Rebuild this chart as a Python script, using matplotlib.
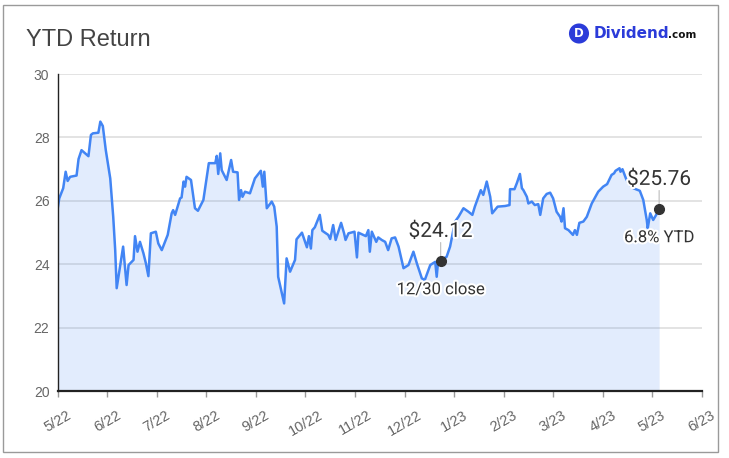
import matplotlib.pyplot as plt
import matplotlib.patheffects as pe
from matplotlib.patches import Rectangle

# ── data (x = months since 5/22) ────────────────────────────────────────────
MONTH_LABELS = ['5/22', '6/22', '7/22', '8/22', '9/22', '10/22', '11/22',
                '12/22', '1/23', '2/23', '3/23', '4/23', '5/23', '6/23']
Y_TICKS = [20, 22, 24, 26, 28, 30]

months = [
    0.00, 0.03, 0.11, 0.16, 0.20, 0.25, 0.38, 0.42, 0.48, 0.62, 0.67, 0.71,
    0.82, 0.86, 0.91, 0.97, 1.06, 1.12, 1.16, 1.19, 1.32, 1.39, 1.43, 1.53,
    1.56, 1.61, 1.66, 1.73, 1.78, 1.83, 1.88, 1.98, 2.03, 2.10, 2.22, 2.30,
    2.33, 2.37, 2.47, 2.50, 2.54, 2.57, 2.60, 2.69, 2.77, 2.83, 2.94, 3.05,
    3.18, 3.21, 3.24, 3.28, 3.31, 3.41, 3.50, 3.54, 3.63, 3.66, 3.70, 3.73,
    3.78, 3.88, 3.98, 4.10, 4.14, 4.17, 4.22, 4.32, 4.37, 4.42, 4.45, 4.57,
    4.62, 4.69, 4.79, 4.82, 4.93, 5.03, 5.07, 5.11, 5.14, 5.19, 5.29, 5.34,
    5.46, 5.50, 5.56, 5.61, 5.72, 5.78, 5.81, 5.87, 5.99, 6.04, 6.07, 6.22,
    6.27, 6.30, 6.34, 6.43, 6.47, 6.54, 6.61, 6.67, 6.74, 6.81, 6.88, 6.98,
    7.08, 7.18, 7.25, 7.35, 7.41, 7.52, 7.62, 7.65, 7.68, 7.73, 7.85, 7.92,
    8.02, 8.09, 8.19, 8.29, 8.37, 8.42, 8.54, 8.59, 8.66, 8.73, 8.77, 8.88,
    9.03, 9.12, 9.13, 9.22, 9.27, 9.33, 9.37, 9.40, 9.47, 9.50, 9.57, 9.63,
    9.70, 9.74, 9.80, 9.87, 9.94, 10.00, 10.07, 10.14, 10.17, 10.21, 10.24,
    10.31, 10.40, 10.44, 10.48, 10.53, 10.61, 10.68, 10.78, 10.91, 11.01,
    11.09, 11.18, 11.23, 11.26, 11.34, 11.36, 11.40, 11.47, 11.52, 11.62,
    11.75, 11.82, 11.89, 11.91, 11.96, 12.02, 12.08, 12.14,
]
prices = [
    25.77, 26.08, 26.40, 26.92, 26.63, 26.76, 26.80, 27.32, 27.60, 27.41, 28.08, 28.13,
    28.15, 28.50, 28.36, 27.60, 26.71, 25.50, 24.45, 23.25, 24.56, 23.35, 23.98, 24.14,
    24.89, 24.40, 24.71, 24.35, 24.03, 23.63, 24.98, 25.03, 24.66, 24.45, 24.93, 25.61,
    25.71, 25.56, 26.08, 26.11, 26.61, 26.45, 26.76, 26.66, 25.77, 25.69, 26.03, 27.19,
    27.19, 27.42, 26.85, 27.50, 26.97, 26.66, 27.29, 26.92, 26.90, 26.03, 26.34, 26.13,
    26.29, 26.24, 26.71, 26.95, 26.45, 26.92, 25.77, 25.98, 25.82, 25.19, 23.61, 22.77,
    24.19, 23.77, 24.14, 24.79, 25.00, 24.54, 24.89, 24.50, 25.08, 25.17, 25.56, 25.06,
    24.93, 24.80, 25.24, 24.77, 25.31, 24.98, 24.77, 24.98, 25.03, 24.22, 25.00, 24.89,
    25.08, 24.40, 25.03, 24.71, 24.85, 24.77, 24.71, 24.45, 24.82, 24.85, 24.56, 23.88,
    23.98, 24.40, 24.03, 23.56, 23.51, 23.98, 24.08, 23.61, 24.14, 24.12, 24.24, 24.56,
    25.35, 25.50, 25.77, 25.66, 25.56, 25.82, 26.34, 26.19, 26.61, 26.13, 25.61, 25.82,
    25.84, 25.87, 26.37, 26.37, 26.57, 26.85, 26.40, 26.34, 26.13, 25.92, 25.98, 25.87,
    25.90, 25.56, 26.08, 26.22, 26.26, 26.08, 25.66, 25.50, 25.35, 25.77, 25.14,
    25.08, 24.93, 25.08, 24.93, 25.31, 25.35, 25.50, 25.92, 26.29, 26.45,
    26.53, 26.82, 26.87, 26.95, 27.03, 26.92, 27.00, 26.71, 26.55, 26.40,
    26.32, 26.03, 25.40, 25.14, 25.61, 25.40, 25.56, 25.76,
]

# annotated points: 12/30 close and latest
close_idx = months.index(7.73)
close_label = ('$24.12', '12/30 close')
last_label = ('$25.76', '6.8% YTD')

LINE_BLUE = '#4285f4'
LOGO_BLUE = '#2b3bd9'
TXT = '#333333'

fig = plt.figure(figsize=(7.29, 4.58), dpi=100)
ax = fig.add_axes([0.0792, 0.1456, 0.8834, 0.6928])

ax.fill_between(months, prices, 20, color=LINE_BLUE, alpha=0.15, lw=0, zorder=2)
ax.plot(months, prices, color=LINE_BLUE, lw=1.8, zorder=3)

ax.set_xlim(0, len(MONTH_LABELS) - 1)
ax.set_ylim(Y_TICKS[0], Y_TICKS[-1])
ax.set_xticks(range(len(MONTH_LABELS)))
ax.set_xticklabels(MONTH_LABELS, rotation=30, family='Liberation Sans',
                   fontsize=10.5, color='#666666')
ax.set_yticks(Y_TICKS)
ax.set_yticklabels([str(t) for t in Y_TICKS], family='Liberation Sans',
                   fontsize=10, color='#666666')
ax.tick_params(axis='x', length=4, color='#999999', width=1, pad=8)
ax.tick_params(axis='y', length=0, pad=6)
ax.grid(axis='y', color='#e0e0e0', lw=1.3, zorder=1)
ax.set_axisbelow(True)
for s in ('top', 'right'):
    ax.spines[s].set_visible(False)
ax.spines['left'].set_color('#222222')
ax.spines['left'].set_linewidth(1.0)
ax.spines['bottom'].set_color('#222222')
ax.spines['bottom'].set_linewidth(1.6)
ax.spines['left'].set_zorder(4)
ax.spines['bottom'].set_zorder(4)

halo = [pe.withStroke(linewidth=3, foreground='white')]


def mark(i, labels):
    x, y = months[i], prices[i]
    ax.annotate('', (x, y), xytext=(0, 13), textcoords='offset points',
                arrowprops=dict(arrowstyle='-', color='#bbbbbb', lw=0.8,
                                shrinkA=0, shrinkB=0), zorder=5)
    ax.plot(x, y, 'o', color='#333333', ms=7, zorder=6)
    ax.annotate(labels[0], (x, y), xytext=(0, 21), textcoords='offset points',
                ha='center', va='center', fontsize=15, family='Roboto',
                color=TXT, path_effects=halo, zorder=7)
    ax.annotate(labels[1], (x, y), xytext=(0, -21), textcoords='offset points',
                ha='center', va='center', fontsize=12, family='Roboto',
                color=TXT, path_effects=halo, zorder=7)


mark(close_idx, close_label)
mark(len(months) - 1, last_label)

# title, logo, frame
fig.text(26 / 729, 1 - 40 / 458, 'YTD Return', fontsize=17, family='Liberation Sans',
         color='#444444', va='center', ha='left')
fig.text(579 / 729, 1 - 33.5 / 458, 'D', fontsize=8.5, fontweight='bold', color='white',
         ha='center', va='center', family='DejaVu Sans',
         bbox=dict(boxstyle='circle,pad=0.3', fc=LOGO_BLUE, ec='none'))
fig.text(594 / 729, 1 - 33.5 / 458, 'Dividend', fontsize=11, fontweight='bold',
         color=LOGO_BLUE, ha='left', va='center', family='DejaVu Sans')
fig.text(668 / 729, 1 - 35.5 / 458, '.com', fontsize=7.5, fontweight='bold',
         color='#111111', ha='left', va='center', family='DejaVu Sans')
fig.patches.append(Rectangle((3 / 729, 6 / 458), 715 / 729, 447 / 458, transform=fig.transFigure,
                             fill=False, edgecolor='#9a9a9a', lw=1, figure=fig))

fig.savefig('out.png', dpi=100)
